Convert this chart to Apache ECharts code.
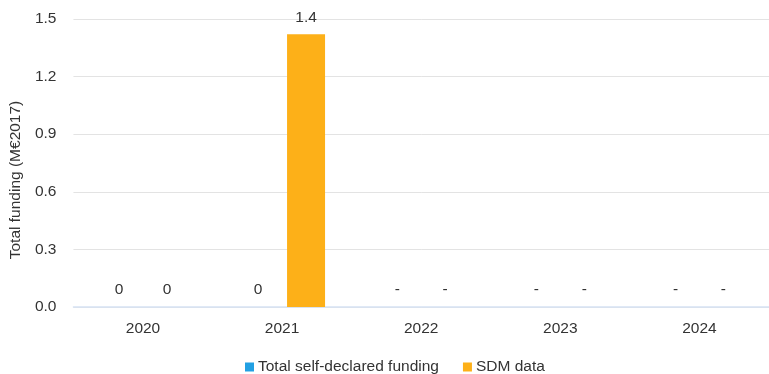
<!DOCTYPE html>
<html>
<head>
<meta charset="utf-8">
<script src="https://cdn.jsdelivr.net/npm/echarts@6/dist/echarts.min.js"></script>
<style>
  html, body { margin: 0; padding: 0; background: #fff; }
  #chart { width: 769px; height: 374px; }
</style>
</head>
<body>
<div id="chart"></div>
<script>
// 数据
const years = ['2020', '2021', '2022', '2023', '2024'];
const selfDeclared = [0, 0, null, null, null];
const selfDeclaredLabels = ['0', '0', '-', '-', '-'];
const sdmData = [0, 1.42, null, null, null];
const sdmLabels = ['0', '1.4', '-', '-', '-'];
const yTicks = [0, 0.3, 0.6, 0.9, 1.2, 1.5];

const FONT = 'Liberation Sans';
const SIZE = 15.5;
const TEXT = '#333333';

function buildData(values, labels) {
    return values.map((v, i) => ({ value: v === null ? 0 : v, labelText: labels[i] }));
}

const chart = echarts.init(document.getElementById('chart'));
chart.setOption({
    animation: false,
    textStyle: { fontFamily: FONT },
    grid: { left: 71, top: 19, width: 710, height: 288 },
    legend: {
        left: 240,
        top: 354,
        itemWidth: 9,
        itemHeight: 9,
        itemGap: 24,
        icon: 'rect',
        textStyle: { fontSize: SIZE, color: TEXT, fontFamily: FONT, padding: [0, 0, 0, -1] },
        data: ['Total self-declared funding', 'SDM data']
    },
    xAxis: {
        type: 'category',
        data: years,
        axisLine: { lineStyle: { color: '#d6e2f3', width: 1.5 } },
        axisTick: { show: false },
        axisLabel: { fontSize: SIZE, color: TEXT, margin: 14, fontFamily: FONT }
    },
    yAxis: {
        type: 'value',
        min: yTicks[0],
        max: yTicks[yTicks.length - 1],
        interval: 0.3,
        name: 'Total funding (M€2017)',
        nameLocation: 'middle',
        nameGap: 41,
        nameTextStyle: { fontSize: SIZE, color: TEXT, fontFamily: FONT, padding: [0, 34, 0, 0] },
        axisLabel: {
            fontSize: SIZE, color: TEXT, margin: 17, fontFamily: FONT,
            formatter: v => v.toFixed(1)
        },
        splitLine: { lineStyle: { color: '#e3e3e3', width: 1 } }
    },
    series: [
        {
            name: 'Total self-declared funding',
            type: 'bar',
            barWidth: 38,
            barGap: '26%',
            itemStyle: { color: '#22a0e3' },
            data: buildData(selfDeclared, selfDeclaredLabels),
            label: {
                show: true, position: 'top', distance: 9,
                fontSize: SIZE, color: TEXT, fontFamily: FONT,
                formatter: p => p.data.labelText
            }
        },
        {
            name: 'SDM data',
            type: 'bar',
            barWidth: 38,
            barGap: '26%',
            itemStyle: { color: '#fdb018' },
            data: buildData(sdmData, sdmLabels),
            label: {
                show: true, position: 'top', distance: 9,
                fontSize: SIZE, color: TEXT, fontFamily: FONT,
                formatter: p => p.data.labelText
            }
        }
    ]
});
</script>
</body>
</html>
